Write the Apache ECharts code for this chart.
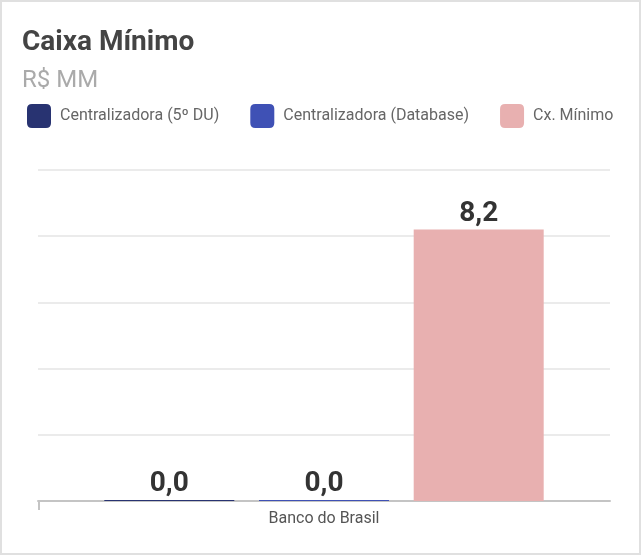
<!DOCTYPE html>
<html>
<head>
<meta charset="utf-8">
<script src="https://cdn.jsdelivr.net/npm/echarts@6/dist/echarts.min.js"></script>
<style>
  html, body { margin: 0; padding: 0; background: #fff; }
  #chart { width: 641px; height: 555px; box-sizing: border-box; border: 2px solid #e0e0e0; }
</style>
</head>
<body>
<div id="chart"></div>
<script>
// Caixa Mínimo — Banco do Brasil, R$ MM
const categories = ['Banco do Brasil'];
const seriesNames = ['Centralizadora (5º DU)', 'Centralizadora (Database)', 'Cx. Mínimo'];
const centralizadora5DU = [0.0];
const centralizadoraDatabase = [0.0];
const cxMinimo = [8.2];
const seriesColors = ['#283371', '#3f51b5', '#e8b0b0'];

const seriesValues = [centralizadora5DU, centralizadoraDatabase, cxMinimo];

const chart = echarts.init(document.getElementById('chart'), null, { renderer: 'canvas' });

const fmt = v => v.toFixed(1).replace('.', ',');
const roundSquare = 'path://M5,0 H19 Q24,0 24,5 V19 Q24,24 19,24 H5 Q0,24 0,19 V5 Q0,0 5,0 Z';

chart.setOption({
  animation: false,
  textStyle: { fontFamily: 'Roboto' },
  title: {
    text: 'Caixa Mínimo',
    subtext: 'R$ MM',
    left: 15,
    top: 22,
    itemGap: 12,
    textStyle: { fontFamily: 'Roboto', fontWeight: 'bold', fontSize: 28, color: '#444' },
    subtextStyle: { fontFamily: 'Roboto', fontSize: 24, color: '#aaa' }
  },
  legend: {
    left: 25,
    top: 102,
    padding: 0,
    icon: roundSquare,
    itemWidth: 24,
    itemHeight: 24,
    itemGap: 31,
    textStyle: { fontFamily: 'Roboto', fontSize: 16, color: '#666', padding: [0, 0, 0, 4] },
    data: seriesNames
  },
  grid: { left: 36, right: 29, top: 168, bottom: 52 },
  xAxis: {
    type: 'category',
    data: categories,
    axisLine: { lineStyle: { color: '#c4c4c4', width: 2 } },
    axisTick: { show: false },
    axisLabel: { fontFamily: 'Roboto', fontSize: 16, color: '#555', margin: 10 }
  },
  yAxis: {
    type: 'value',
    min: 0,
    max: 10,
    interval: 2,
    axisLine: { show: false },
    axisTick: { show: false },
    axisLabel: { show: false },
    splitLine: { lineStyle: { color: '#ebebeb', width: 2 } }
  },
  series: seriesValues.map((vals, i) => ({
    name: seriesNames[i],
    type: 'bar',
    data: vals,
    barWidth: 130,
    barGap: '19%',
    barMinHeight: 1,
    itemStyle: { color: seriesColors[i] },
    label: {
      show: true,
      position: 'top',
      distance: 2,
      formatter: p => fmt(p.value),
      fontFamily: 'Roboto',
      fontWeight: 'bold',
      fontSize: 28,
      color: '#333'
    }
  }))
});

// small tick at the left end of the category axis
const gridRect = chart.getModel().getComponent('grid', 0).coordinateSystem.getRect();
chart.setOption({
  graphic: [{
    type: 'line',
    shape: { x1: gridRect.x + 1, y1: gridRect.y + gridRect.height, x2: gridRect.x + 1, y2: gridRect.y + gridRect.height + 9 },
    style: { stroke: '#c4c4c4', lineWidth: 2 }
  }]
});
</script>
</body>
</html>
